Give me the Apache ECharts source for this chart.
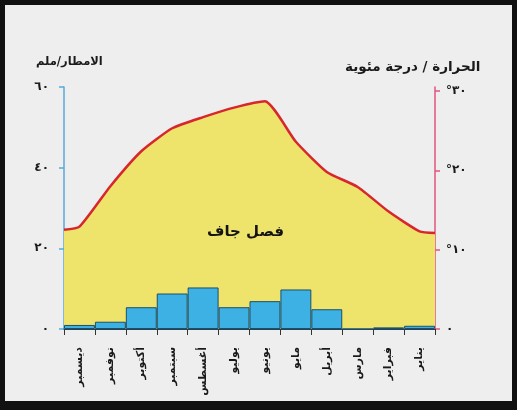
<!DOCTYPE html>
<html>
<head>
<meta charset="utf-8">
<style>
  html, body { margin: 0; padding: 0; background: #111; }
  #chart { width: 517px; height: 410px; }
</style>
<script src="https://cdn.jsdelivr.net/npm/echarts@6/dist/echarts.min.js"></script>
</head>
<body>
<div id="chart"></div>
<script>
// Months in display order, left to right
const months = ['ديسمبر', 'نوفمبر', 'أكتوبر', 'سبتمبر', 'أغسطس', 'يوليو',
                'يونيو', 'مايو', 'أبريل', 'مارس', 'فبراير', 'يناير'];

// Monthly precipitation (mm)
const precipitation = [1.0, 1.8, 5.4, 8.8, 10.3, 5.4, 6.9, 9.8, 4.9, 0, 0.4, 0.8];

// Monthly mean temperature (°C), plus the values where the curve meets each axis
const temperature = [12.9, 18.0, 22.4, 25.3, 26.7, 27.9, 28.7, 23.6, 19.8, 17.9, 14.8, 12.3];
const tempAtLeftEdge = 12.5;
const tempAtRightEdge = 12.1;

// Axis ticks
const precipTicks = [0, 20, 40, 60];
const tempTicks = [0, 10, 20, 30];

const arabicDigits = '٠١٢٣٤٥٦٧٨٩';
const toArabic = v => String(v).replace(/\d/g, d => arabicDigits[+d]);

const FONT = '"DejaVu Sans", "Noto Sans", sans-serif';

// Temperature curve on a continuous 0..12 month scale so it spans the full plot width
const tempCurve = [[0, tempAtLeftEdge]]
  .concat(temperature.map((t, i) => [i + 0.5, t]))
  .concat([[months.length, tempAtRightEdge]]);

const chart = echarts.init(document.getElementById('chart'), null, { renderer: 'canvas' });

chart.setOption({
  backgroundColor: '#111',
  animation: false,
  grid: { left: 64, right: 82, top: 87, bottom: 81, containLabel: false },
  graphic: [
    { type: 'rect', z: -10, silent: true,
      shape: { x: 5, y: 5, width: 507, height: 396 },
      style: { fill: '#eeeeee' } },
    { type: 'text', left: 36, top: 56, z: 10,
      style: { text: 'الامطار/ملم', font: 'bold 11.5px ' + FONT, fill: '#1a1a1a' } },
    { type: 'text', left: 345, top: 60, z: 10,
      style: { text: 'الحرارة / درجة مئوية', font: 'bold 13.5px ' + FONT, fill: '#1a1a1a' } },
    { type: 'text', left: 207, top: 225, z: 10,
      style: { text: 'فصل جاف', font: 'bold 15px ' + FONT, fill: '#141414' } }
  ],
  xAxis: [
    {
      type: 'category',
      data: months,
      boundaryGap: true,
      axisLine: { show: true, lineStyle: { color: '#1f4656', width: 2 } },
      axisTick: { show: true, length: 6, lineStyle: { color: '#333', width: 1 } },
      axisLabel: {
        rotate: 90, margin: 18, interval: 0,
        fontFamily: FONT, fontSize: 11, fontWeight: 'bold', color: '#1a1a1a'
      },
      splitLine: { show: false }
    },
    { type: 'value', min: 0, max: months.length, show: false }
  ],
  yAxis: [
    {
      type: 'value', position: 'left', min: 0, max: 60, interval: 20,
      axisLine: { show: true, lineStyle: { color: '#58a9d8', width: 1.5 } },
      axisTick: { show: true, length: 5, lineStyle: { color: '#58a9d8', width: 1.5 } },
      axisLabel: {
        margin: 15, fontFamily: FONT, fontSize: 12, fontWeight: 'bold', color: '#1a1a1a',
        customValues: precipTicks,
        formatter: v => toArabic(v)
      },
      splitLine: { show: false }
    },
    {
      type: 'value', position: 'right', min: 0, max: 30.5,
      axisLine: { show: true, lineStyle: { color: '#e0557f', width: 1.5 } },
      axisTick: { show: true, length: 5, customValues: tempTicks,
                  lineStyle: { color: '#e0557f', width: 1.5 } },
      axisLabel: {
        margin: 11, fontFamily: FONT, fontSize: 12, fontWeight: 'bold', color: '#1a1a1a',
        customValues: tempTicks,
        formatter: v => (v === 0 ? '' : '°') + toArabic(v)
      },
      splitLine: { show: false }
    }
  ],
  series: [
    {
      name: 'الحرارة',
      type: 'line',
      xAxisIndex: 1, yAxisIndex: 1,
      data: tempCurve,
      smooth: 0.18,
      symbol: 'none',
      z: 1,
      lineStyle: { color: '#d8262e', width: 2.5 },
      areaStyle: { color: '#eee46c', opacity: 1 }
    },
    {
      name: 'الامطار',
      type: 'bar',
      xAxisIndex: 0, yAxisIndex: 0,
      data: precipitation,
      barCategoryGap: '0%',
      z: 3,
      itemStyle: { color: '#3db1e3', borderColor: '#1d4e6b', borderWidth: 1 }
    }
  ]
});
</script>
</body>
</html>
